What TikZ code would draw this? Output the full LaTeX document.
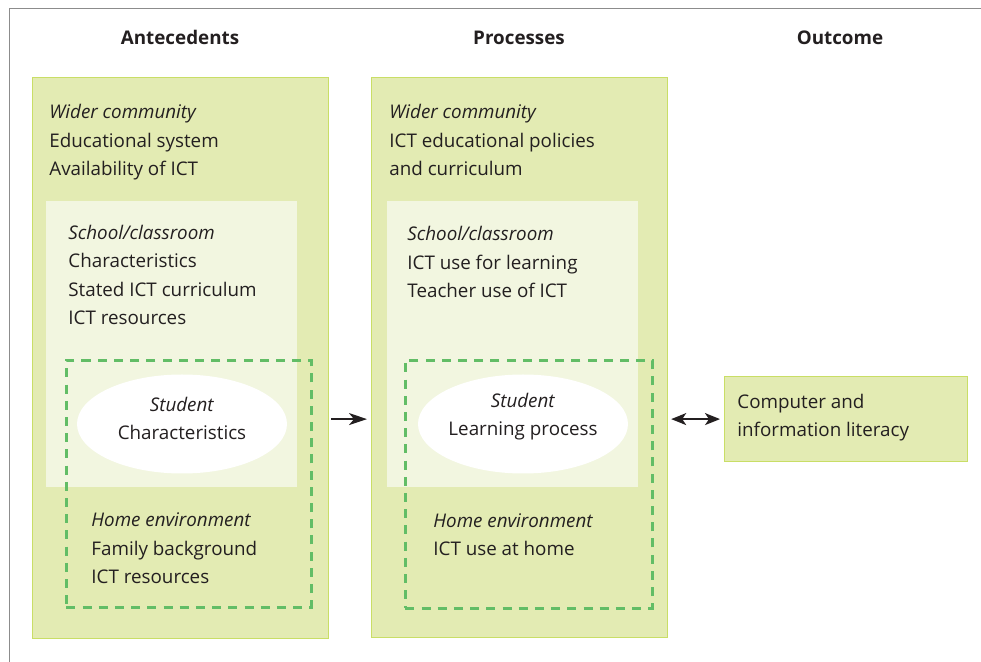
\documentclass[tikz,border=0pt]{standalone}
\usepackage{fontspec}
\setmainfont{Open Sans}
\usetikzlibrary{arrows.meta}
\usetikzlibrary{shapes.geometric}

\definecolor{panelfill}{HTML}{E3EBB3}
\definecolor{panelline}{HTML}{C9DE66}
\definecolor{schoolfill}{HTML}{F2F6E0}
\definecolor{dashgreen}{HTML}{62BD66}
\definecolor{ink}{HTML}{231F20}
\definecolor{framegray}{HTML}{8C8C8C}

\tikzset{
  panel/.style={draw=panelline, fill=panelfill, line width=0.6pt, inner sep=0pt, anchor=north west},
  schoolbox/.style={fill=schoolfill, inner sep=0pt, anchor=north west},
  homebox/.style={draw=dashgreen, line width=1.3pt, dash pattern=on 4.5pt off 3.6pt, inner sep=0pt, anchor=north west},
  studentell/.style={ellipse, fill=white, inner sep=0pt, minimum width=105pt, minimum height=49.5pt},
  txt/.style={anchor=base west, align=left, inner sep=0pt, text=ink, font=\fontsize{9.4}{14.25}\selectfont},
  midtxt/.style={txt, anchor=base, align=center},
  heading/.style={anchor=base, inner sep=0pt, text=ink, font=\fontsize{9.4}{12}\selectfont\bfseries},
  link/.style={line width=0.9pt, ink, -{Stealth[length=9pt, width=6pt, inset=2.5pt]}},
  dlink/.style={line width=0.9pt, ink, {Stealth[length=7.5pt, width=6pt, inset=2pt]}-{Stealth[length=7.5pt, width=6pt, inset=2pt]}}
}

\begin{document}
\begin{tikzpicture}[x=0.5pt, y=-0.5pt]
\useasboundingbox (0,0) rectangle (981,662);
\draw[framegray, line width=0.5pt] (9,662) -- (9,9) -- (981,9);

% column headings
\node[heading] (hante) at (180,45) {Antecedents};
\node[heading] (hproc) at (519,45) {Processes};
\node[heading] (hout) at (840,45) {Outcome};

% antecedents (text nodes sit on the baseline of their last line)
\node[panel, minimum width=148pt, minimum height=280.5pt] (ante) at (32,77) {};
\node[schoolbox, minimum width=125.5pt, minimum height=143pt] (school1) at (46,201) {};
\node[homebox, minimum width=122.5pt, minimum height=123.5pt] (home1) at (65,359) {};
\node[studentell] (stud1) at (182,424) {};
\node[txt] (wider1) at (49,176) {\textit{Wider community}\\Educational system\\Availability of ICT};
\node[txt] (class1) at (68,325) {\textit{School/classroom}\\Characteristics\\Stated ICT curriculum\\ICT resources};
\node[midtxt] (stext1) at (182,440) {\textit{Student}\\Characteristics};
\node[txt] (htext1) at (91,584) {\textit{Home environment}\\Family background\\ICT resources};

% processes
\node[panel, minimum width=148pt, minimum height=280pt] (proc) at (371,77) {};
\node[schoolbox, minimum width=125.5pt, minimum height=143pt] (school2) at (387,201) {};
\node[homebox, minimum width=123.5pt, minimum height=124pt] (home2) at (404,359) {};
\node[studentell] (stud2) at (523,424) {};
\node[txt] (wider2) at (389,176) {\textit{Wider community}\\ICT educational policies\\and curriculum};
\node[txt] (class2) at (407,298) {\textit{School/classroom}\\ICT use for learning\\Teacher use of ICT};
\node[midtxt] (stext2) at (523,436) {\textit{Student}\\Learning process};
\node[txt] (htext2) at (433,556) {\textit{Home environment}\\ICT use at home};

% outcome
\node[panel, minimum width=121.5pt, minimum height=42.5pt] (out) at (724,376) {};
\node[txt] (otext) at (737,437) {Computer and\\information literacy};

\draw[link, shorten <=1pt, shorten >=2pt] (ante.east |- out.west) -- (proc.west |- out.west);
\draw[dlink, shorten <=1.5pt, shorten >=2pt] (proc.east |- out.west) -- (out.west);
\end{tikzpicture}
\end{document}
